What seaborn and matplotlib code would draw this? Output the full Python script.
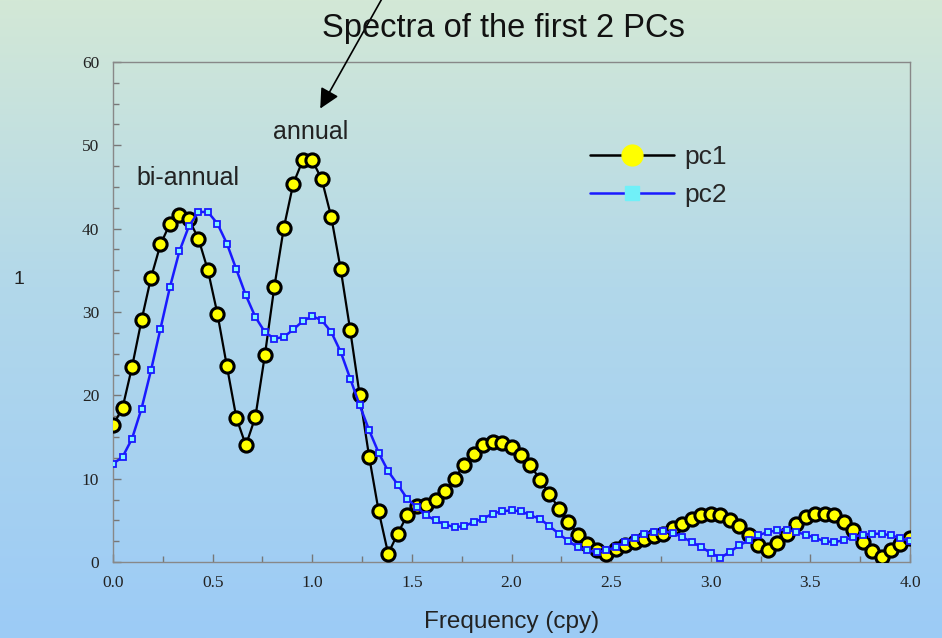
import numpy as np
import matplotlib
matplotlib.use("Agg")
import matplotlib.pyplot as plt
import seaborn as sns
from matplotlib.lines import Line2D
from matplotlib.ticker import MultipleLocator

# frequency steps of 1/21 cpy from 0 to 4
freq = np.arange(85) / 21.0

pc1 = [16.4, 18.5, 23.4, 29.0, 34.1, 38.1, 40.6, 41.6, 41.1, 38.8,
       35.0, 29.8, 23.5, 17.3, 14.0, 17.4, 24.8, 33.0, 40.1, 45.4,
       48.2, 48.2, 45.9, 41.4, 35.1, 27.8, 20.0, 12.6, 6.1, 1.0,
       3.4, 5.6, 6.7, 6.9, 7.4, 8.5, 10.0, 11.7, 13.0, 14.0,
       14.4, 14.3, 13.8, 12.8, 11.6, 9.9, 8.2, 6.4, 4.8, 3.3,
       2.2, 1.4, 1.0, 1.6, 2.0, 2.4, 2.8, 3.1, 3.4, 4.1,
       4.6, 5.2, 5.6, 5.8, 5.7, 5.0, 4.3, 3.2, 2.0, 1.4,
       2.3, 3.4, 4.6, 5.4, 5.8, 5.8, 5.6, 4.8, 3.8, 2.4,
       1.3, 0.6, 1.5, 2.2, 2.9]

pc2 = [11.8, 12.6, 14.8, 18.4, 23.0, 28.0, 33.0, 37.3, 40.3, 42.0,
       42.0, 40.6, 38.2, 35.1, 32.0, 29.4, 27.6, 26.8, 27.0, 27.9,
       28.9, 29.5, 29.0, 27.6, 25.2, 22.0, 18.8, 15.8, 13.1, 10.9,
       9.3, 7.6, 6.6, 5.6, 5.0, 4.5, 4.2, 4.3, 4.8, 5.2,
       5.8, 6.1, 6.2, 6.1, 5.6, 5.2, 4.3, 3.4, 2.5, 1.8,
       1.4, 1.2, 1.4, 1.8, 2.4, 2.9, 3.4, 3.6, 3.7, 3.5,
       3.0, 2.4, 1.8, 1.1, 0.5, 1.2, 2.0, 2.6, 3.2, 3.6,
       3.8, 3.9, 3.6, 3.3, 2.9, 2.5, 2.4, 2.6, 3.0, 3.3,
       3.4, 3.4, 3.2, 2.9, 2.5]

series_names = ["pc1", "pc2"]
x_ticks = [0.0, 0.5, 1.0, 1.5, 2.0, 2.5, 3.0, 3.5, 4.0]
y_ticks = [0, 10, 20, 30, 40, 50, 60]

sns.set_style("ticks")
plt.rcParams["font.family"] = ["Liberation Sans", "DejaVu Sans"]

fig = plt.figure(figsize=(9.42, 6.38), dpi=100)

# background gradient, green at the top to light blue at the bottom
bg = fig.add_axes([0, 0, 1, 1], zorder=-10)
top = np.array([211, 232, 214]) / 255
mid = np.array([178, 216, 234]) / 255
bot = np.array([156, 203, 246]) / 255
t = np.linspace(0, 1, 256)[:, None]
grad = np.where(t < 0.45, top + (mid - top) * (t / 0.45),
                mid + (bot - mid) * ((t - 0.45) / 0.55))
bg.imshow(grad[:, None, :], aspect="auto", extent=[0, 1, 0, 1])
bg.axis("off")

ax = fig.add_axes([0.12, 0.119, 0.846, 0.784])
ax.patch.set_alpha(0)

sns.lineplot(x=freq, y=pc1, ax=ax, color="black", lw=1.6, marker="o",
             markersize=9.5, markerfacecolor="#ffff00", markeredgecolor="black",
             markeredgewidth=2.2, zorder=3)
sns.lineplot(x=freq, y=pc2, ax=ax, color="#1a1aff", lw=1.8, marker="s",
             markersize=5, markerfacecolor="#7ff4ff", markeredgecolor="#1a1aff",
             markeredgewidth=1.3, zorder=4)

ax.set_xlim(0, 4)
ax.set_ylim(0, 60)
ax.set_xticks(x_ticks)
ax.set_yticks(y_ticks)
ax.set_xticklabels([f"{v:.1f}" for v in x_ticks])
ax.set_yticklabels([str(v) for v in y_ticks])
ax.xaxis.set_minor_locator(MultipleLocator(0.25))
ax.yaxis.set_minor_locator(MultipleLocator(2.5))
ax.tick_params(which="both", direction="in", color="#777777", width=1)
ax.tick_params(which="major", length=6)
ax.tick_params(which="minor", length=4)
for lab in ax.get_xticklabels() + ax.get_yticklabels():
    lab.set_fontfamily("Liberation Serif")
    lab.set_fontsize(12.5)
    lab.set_color("#222222")
ax.tick_params(axis="x", pad=9)
ax.tick_params(axis="y", pad=10)
for s in ax.spines.values():
    s.set_visible(True)
    s.set_color("#888888")
    s.set_linewidth(1)

ax.set_xlabel("Frequency (cpy)", fontsize=17.5, labelpad=15, color="#222222")
fig.text(0.014, 0.555, "1", fontsize=14, color="#222222")

fig.text(0.534, 0.955, "Spectra of the first 2 PCs", fontsize=23.5,
         ha="center", va="center", color="#111111")
ax.text(0.99, 51.6, "annual", fontsize=18, ha="center", va="center", color="#222222")
ax.text(0.376, 46.1, "bi-annual", fontsize=18, ha="center", va="center", color="#222222")

ax.annotate("", xy=(1.04, 54.4), xytext=(0.4066, 1.005), textcoords="figure fraction",
            arrowprops=dict(arrowstyle="-|>", color="black", lw=1.2,
                            mutation_scale=30, shrinkA=0, shrinkB=0),
            annotation_clip=False)

handles = [
    Line2D([], [], color="black", lw=1.8, marker="o", markersize=15,
           markerfacecolor="#ffff00", markeredgecolor="#ffff00"),
    Line2D([], [], color="#1a1aff", lw=1.8, marker="s", markersize=10,
           markerfacecolor="#70f0f8", markeredgecolor="#70f0f8"),
]
ax.legend(handles, series_names, loc="upper left", bbox_to_anchor=(0.598, 0.834),
          frameon=False, fontsize=19, handlelength=3.2, handletextpad=0.4,
          borderpad=0, borderaxespad=0, labelspacing=0.55)

fig.savefig("out.png", dpi=100)
